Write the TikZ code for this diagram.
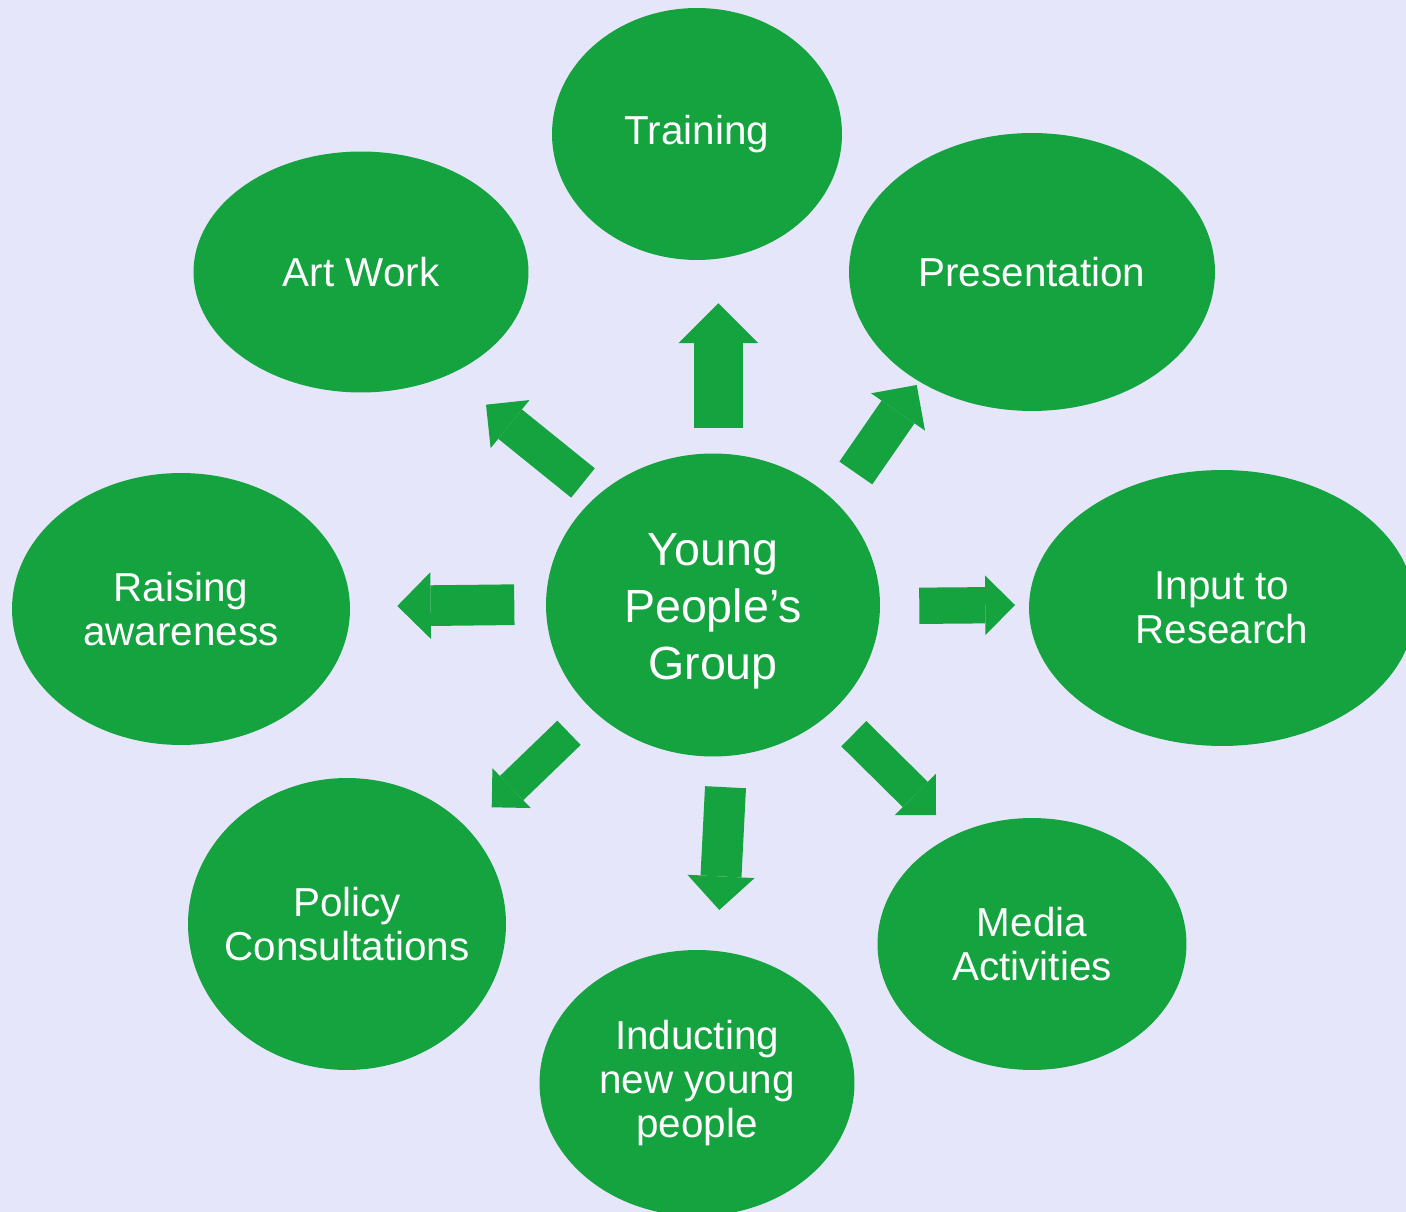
\documentclass[tikz,border=0pt]{standalone}
\usepackage{fontspec}
\setmainfont{Liberation Sans}
\usetikzlibrary{shapes.geometric,arrows.meta}

\definecolor{bgLavender}{RGB}{230,230,250}
\definecolor{ypGreen}{RGB}{20,163,62}

\newcommand\labelSize{\fontsize{23}{25}\selectfont}
\newcommand\centreSize{\fontsize{26.5}{32.3}\selectfont}

\tikzset{
  bubble/.style={ellipse, fill=ypGreen, text=white, inner sep=-1cm, align=center, font=\labelSize},
  blockarrow/.style={draw=ypGreen, line width=#1, -{Triangle[length=0pt 0.82, width=0pt 1.64, line width=0pt]}}
}

\begin{document}
\begin{tikzpicture}[x=0.02cm, y=-0.02cm]
    % background and size of the page
    \fill[bgLavender] (0,0) rectangle (1406,1212);
    \useasboundingbox (0,0) rectangle (1406,1212);

    % THE BUBBLES
    \node[bubble, minimum width=6.68cm, minimum height=6.06cm, font=\centreSize] (group) at (713,605) {\\[-0.25cm]Young\\People's\\Group};
    \node[bubble, minimum width=5.8cm, minimum height=5.04cm] (training) at (697,134) {Training};
    \node[bubble, minimum width=7.32cm, minimum height=5.56cm] (presentation) at (1032,272) {Presentation};
    \node[bubble, minimum width=6.7cm, minimum height=4.82cm] (artwork) at (361,272) {Art Work};
    \node[bubble, minimum width=6.76cm, minimum height=5.44cm] (raising) at (181,609) {Raising\\awareness};
    \node[bubble, minimum width=7.72cm, minimum height=5.52cm] (research) at (1222,608) {Input to\\Research};
    \node[bubble, minimum width=6.36cm, minimum height=5.84cm] (policy) at (347,924) {Policy\\Consultations};
    \node[bubble, minimum width=6.18cm, minimum height=5.04cm] (media) at (1032,944) {Media\\Activities};
    \node[bubble, minimum width=6.3cm, minimum height=5.32cm] (inducting) at (697,1083) {Inducting\\new young\\people};

    % ends of the block arrows
    \coordinate (trainTail) at (718.3,427.7);
    \coordinate (trainTip) at (718.3,303.3);
    \coordinate (presTail) at (855.8,473);
    \coordinate (presTip) at (916.7,385);
    \coordinate (artTail) at (583,483);
    \coordinate (artTip) at (486,404.7);
    \coordinate (raiseTail) at (514.3,604.7);
    \coordinate (raiseTip) at (397.3,606);
    \coordinate (resTail) at (919.3,605.8);
    \coordinate (resTip) at (1015,605);
    \coordinate (polTail) at (569,732.8);
    \coordinate (polTip) at (491.7,807.3);
    \coordinate (indTail) at (725.5,787.2);
    \coordinate (indTip) at (719.3,910);
    \coordinate (medTail) at (853.8,733.7);
    \coordinate (medTip) at (936,815);

    % ARROWS OUT OF THE GROUP
    \draw[blockarrow=0.974cm] (trainTail) -- (trainTip);
    \draw[blockarrow=0.8cm] (presTail) -- (presTip);
    \draw[blockarrow=0.754cm] (artTail) -- (artTip);
    \draw[blockarrow=0.814cm] (raiseTail) -- (raiseTip);
    \draw[blockarrow=0.726cm] (resTail) -- (resTip);
    \draw[blockarrow=0.674cm] (polTail) -- (polTip);
    \draw[blockarrow=0.82cm] (indTail) -- (indTip);
    \draw[blockarrow=0.712cm] (medTail) -- (medTip);
\end{tikzpicture}
\end{document}
